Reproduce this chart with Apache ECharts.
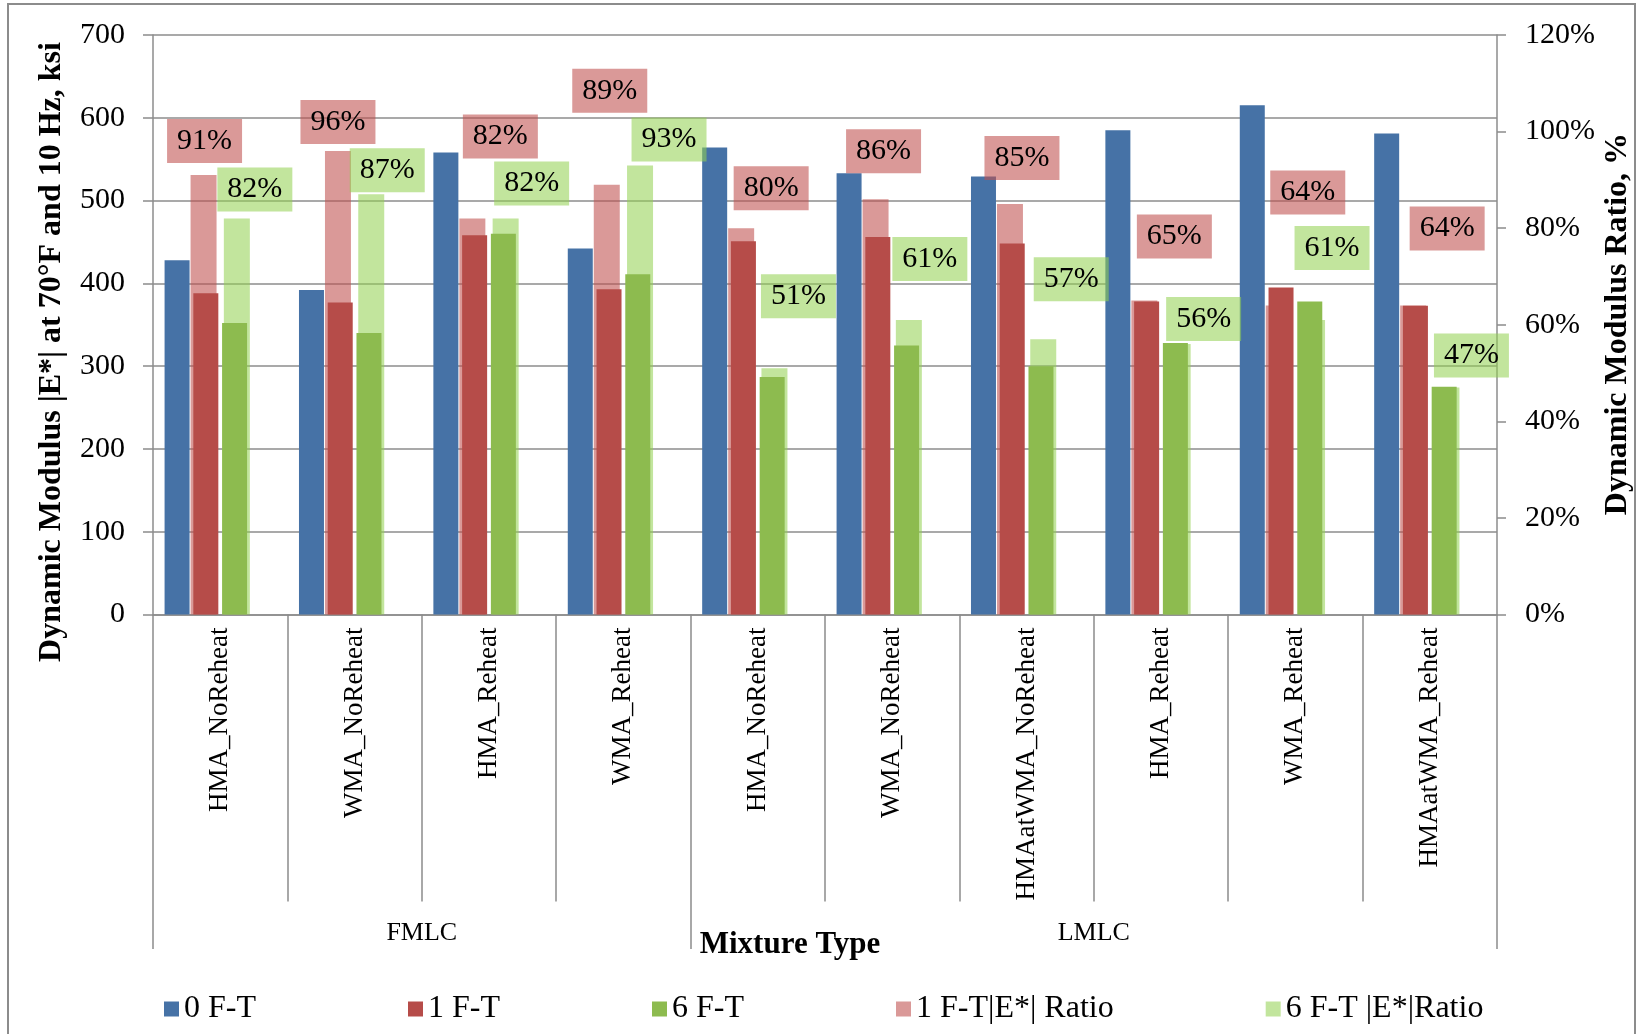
<!DOCTYPE html>
<html>
<head>
<meta charset="utf-8">
<script src="https://cdn.jsdelivr.net/npm/echarts@6/dist/echarts.min.js"></script>
<style>
  html, body { margin: 0; padding: 0; background: #fff; }
  #chart { width: 1642px; height: 1034px; }
</style>
</head>
<body>
<div id="chart"></div>
<script>
// Mixtures, grouped by conditioning (FMLC first 4, LMLC last 6)
const mixtures = ['HMA_NoReheat', 'WMA_NoReheat', 'HMA_Reheat', 'WMA_Reheat',
  'HMA_NoReheat', 'WMA_NoReheat', 'HMAatWMA_NoReheat', 'HMA_Reheat', 'WMA_Reheat', 'HMAatWMA_Reheat'];
const groupNames = ['FMLC', 'LMLC'];
const groupSizes = [4, 6];

// |E*| at 70°F and 10 Hz, ksi
const modulus0FT = [428, 392, 558, 442, 564, 533, 529, 585, 615, 581];
const modulus1FT = [388, 377, 458, 393, 451, 456, 448, 378, 395, 373];
const modulus6FT = [352, 340, 460, 411, 287, 325, 300, 328, 378, 275];

// Dynamic modulus ratios (conditioned / unconditioned)
const ratio1FT = [0.91, 0.96, 0.82, 0.89, 0.80, 0.86, 0.85, 0.65, 0.64, 0.64];
const ratio6FT = [0.82, 0.87, 0.82, 0.93, 0.51, 0.61, 0.57, 0.56, 0.61, 0.47];

// Axis ranges
const modulusAxis = { min: 0, max: 700, step: 100 };
const ratioAxis = { min: 0, max: 1.2, step: 0.2 };

// Hand-placed label nudges [dx, dy] relative to the top of each ratio bar
const ratio1LabelShift = [[1, -12], [0, -7], [28, -60], [3, -72], [30, -18], [8, -26], [12, -24], [30, -42], [29, -91], [34, -55]];
const ratio6LabelShift = [[18, -7], [16, -2], [26, -13], [29, -4], [24, -50], [21, -39], [28, -38], [26, -3], [20, -50], [25, -10]];

const FONT = '"Liberation Serif", "Times New Roman", serif';
const GRAY = '#8c8c8c';
const C_BLUE = '#4672A6';
const C_RED = '#B64C49';
const C_GREEN = '#8DBB4F';
const C_PINK = 'rgba(192,80,77,0.58)';
const C_LIGHTGREEN = 'rgba(146,208,80,0.56)';

// Group boundaries and centres on a 0..N value scale
const groupEdges = [0];
groupSizes.forEach(n => groupEdges.push(groupEdges[groupEdges.length - 1] + n));
const groupCenters = groupSizes.map((n, i) => groupEdges[i] + n / 2);

const pct = v => Math.round(v * 100) + '%';

function ratioData(values, shifts) {
  return values.map((v, i) => ({ value: v, label: { offset: shifts[i] } }));
}

function ratioLabel(bg) {
  return {
    show: true, position: 'top', distance: 0,
    formatter: p => pct(p.value),
    fontFamily: FONT, fontSize: 30, lineHeight: 30, color: '#000',
    backgroundColor: bg, padding: [7, 10, 7, 10]
  };
}

const chart = echarts.init(document.getElementById('chart'), null, { renderer: 'canvas' });

const option = {
  animation: false,
  backgroundColor: '#fff',
  grid: { left: 153, right: 145, top: 35, bottom: 419.5, containLabel: false },
  legend: {
    data: ['0 F-T', '1 F-T', '6 F-T', '1 F-T|E*| Ratio', '6 F-T |E*|Ratio'],
    left: 164, top: 993, padding: 0,
    itemWidth: 15, itemHeight: 15, itemGap: 152, icon: 'rect',
    textStyle: { fontFamily: FONT, fontSize: 32, color: '#000' }
  },
  xAxis: [
    {
      type: 'category', data: mixtures, position: 'bottom', boundaryGap: true,
      axisLine: { lineStyle: { color: GRAY, width: 1.5 } },
      axisTick: { show: true, interval: 0, length: 287, lineStyle: { color: GRAY, width: 1.5 } },
      axisLabel: { interval: 0, rotate: 90, margin: 13, fontFamily: FONT, fontSize: 27, color: '#000' },
      splitLine: { show: false }
    },
    { type: 'category', data: mixtures, position: 'bottom', show: false },
    {
      type: 'value', min: groupEdges[0], max: groupEdges[groupEdges.length - 1], position: 'bottom',
      axisLine: { show: false }, splitLine: { show: false },
      axisTick: { show: true, customValues: groupEdges, length: 334.5, lineStyle: { color: GRAY, width: 1.5 } },
      axisLabel: {
        customValues: groupCenters, margin: 306,
        formatter: v => groupNames[groupCenters.indexOf(v)],
        fontFamily: FONT, fontSize: 26, color: '#000'
      }
    }
  ],
  yAxis: [
    {
      type: 'value', position: 'left', min: modulusAxis.min, max: modulusAxis.max, interval: modulusAxis.step,
      axisLine: { show: true, lineStyle: { color: GRAY, width: 1.5 } },
      axisTick: { show: true, length: 10, lineStyle: { color: GRAY, width: 1.5 } },
      axisLabel: { margin: 28, fontFamily: FONT, fontSize: 30, color: '#000' },
      splitLine: { show: true, lineStyle: { color: GRAY, width: 1.5 } }
    },
    {
      type: 'value', position: 'right', min: ratioAxis.min, max: ratioAxis.max, interval: ratioAxis.step,
      axisLine: { show: true, lineStyle: { color: GRAY, width: 1.5 } },
      axisTick: { show: true, length: 9, lineStyle: { color: GRAY, width: 1.5 } },
      axisLabel: { margin: 28, formatter: pct, fontFamily: FONT, fontSize: 30, color: '#000' },
      splitLine: { show: false }
    }
  ],
  series: [
    // ratio columns sit behind the modulus columns
    {
      name: '1 F-T|E*| Ratio', type: 'bar', xAxisIndex: 1, yAxisIndex: 1,
      barWidth: 26, barGap: '28%', itemStyle: { color: C_PINK },
      label: ratioLabel(C_PINK), data: ratioData(ratio1FT, ratio1LabelShift)
    },
    {
      name: '6 F-T |E*|Ratio', type: 'bar', xAxisIndex: 1, yAxisIndex: 1,
      barWidth: 26, barGap: '28%', itemStyle: { color: C_LIGHTGREEN },
      label: ratioLabel(C_LIGHTGREEN), data: ratioData(ratio6FT, ratio6LabelShift)
    },
    {
      name: '0 F-T', type: 'bar', xAxisIndex: 0, yAxisIndex: 0,
      barWidth: 25, barGap: '15%', itemStyle: { color: C_BLUE }, data: modulus0FT
    },
    {
      name: '1 F-T', type: 'bar', xAxisIndex: 0, yAxisIndex: 0,
      barWidth: 25, barGap: '15%', itemStyle: { color: C_RED }, data: modulus1FT
    },
    {
      name: '6 F-T', type: 'bar', xAxisIndex: 0, yAxisIndex: 0,
      barWidth: 25, barGap: '15%', itemStyle: { color: C_GREEN }, data: modulus6FT
    },
    {
      // empty fourth slot keeps the modulus cluster left of centre
      name: 'spacer', type: 'bar', xAxisIndex: 0, yAxisIndex: 0,
      barWidth: 25, barGap: '15%', data: mixtures.map(() => null), silent: true
    }
  ],
  graphic: [
    {
      type: 'rect', silent: true, z: 0,
      shape: { x: 8, y: 4, width: 1627, height: 1100 },
      style: { fill: null, stroke: GRAY, lineWidth: 2 }
    },
    {
      type: 'text', silent: true, x: 52, y: 352, rotation: Math.PI / 2,
      style: { text: 'Dynamic Modulus |E*| at 70°F and 10 Hz, ksi', font: 'bold 32px ' + FONT, fill: '#000', align: 'center', verticalAlign: 'middle' }
    },
    {
      type: 'text', silent: true, x: 1618, y: 324, rotation: Math.PI / 2,
      style: { text: 'Dynamic Modulus Ratio, %', font: 'bold 32px ' + FONT, fill: '#000', align: 'center', verticalAlign: 'middle' }
    },
    {
      type: 'text', silent: true, x: 790, y: 945,
      style: { text: 'Mixture Type', font: 'bold 31px ' + FONT, fill: '#000', align: 'center', verticalAlign: 'middle' }
    }
  ]
};

chart.setOption(option);
</script>
</body>
</html>
